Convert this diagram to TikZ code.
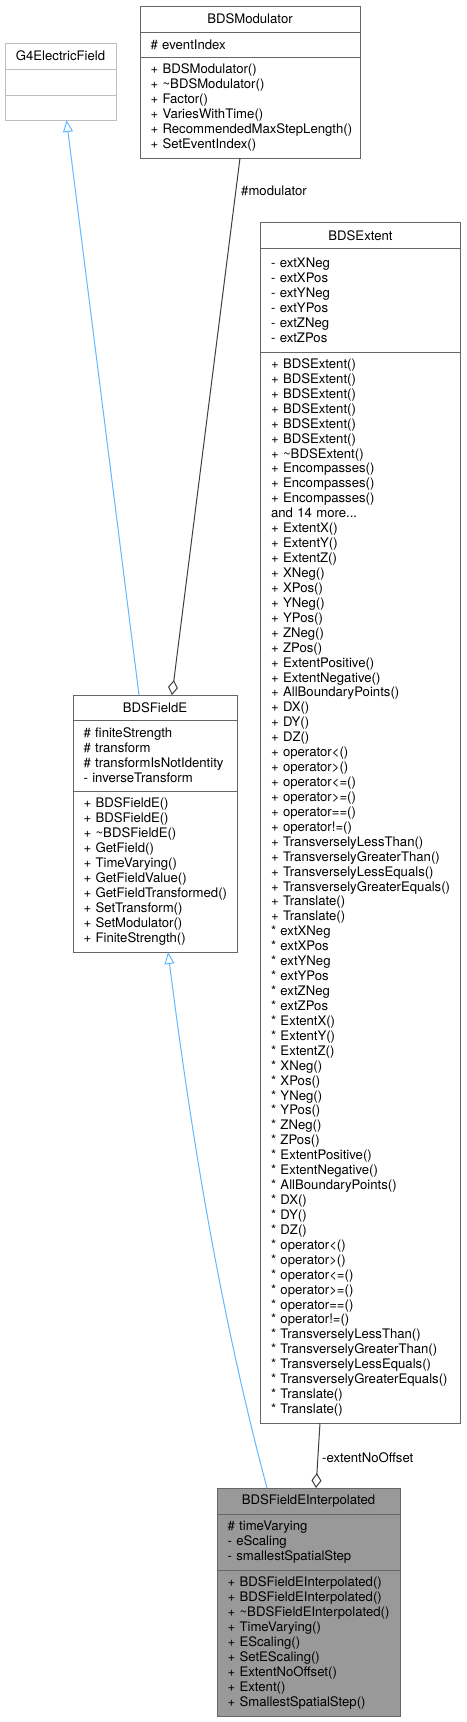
\documentclass[tikz,border=0pt]{standalone}
\usepackage{fontspec}
\setmainfont{TeX Gyre Heros}
\usetikzlibrary{arrows.meta}
\usetikzlibrary{positioning}
\definecolor{inhblue}{HTML}{63B8FF}
\definecolor{aggrey}{HTML}{404040}
\definecolor{boxgrey}{HTML}{666666}
\definecolor{extgrey}{HTML}{BFBFBF}
\definecolor{curfill}{HTML}{999999}
\newcommand{\clsfont}{\fontsize{13.15}{14.93}\selectfont\hyphenpenalty=10000\relax\exhyphenpenalty=10000\relax}
\tikzset{
  cls/.style={draw=boxgrey, line width=1pt, fill=white, outer sep=0pt, inner ysep=0pt, font=\clsfont},
  clstitle/.style={cls, anchor=north, inner xsep=0pt},
  clspart/.style={cls, inner xsep=10.5pt, align=left},
  lbl/.style={anchor=west, inner sep=0pt, font=\clsfont},
  inherit/.style={draw=inhblue, line width=1pt, -{Triangle[open, length=12pt, width=10pt]}},
  aggr/.style={draw=aggrey, line width=1pt, -{Diamond[open, length=15pt, width=10pt]}}
}
\begin{document}
\begin{tikzpicture}[x=1pt, y=-1pt]
\path[use as bounding box, fill=white] (0,0) rectangle (466,1722);

\node[clstitle, draw=extgrey, minimum width=111pt, minimum height=26pt] (G) at (60.5,43) {G4ElectricField};
\node[clspart, draw=extgrey, text width=90pt, minimum height=26pt, below=0pt of G] (Ga) {};
\node[clspart, draw=extgrey, text width=90pt, minimum height=25pt, below=0pt of Ga] (Gm) {};

\node[clstitle, minimum width=220pt, minimum height=26pt] (M) at (250,6) {BDSModulator};
\node[clspart, text width=199pt, minimum height=25pt, below=0pt of M] (Ma) {\#~eventIndex};
\node[clspart, text width=199pt, minimum height=101pt, below=0pt of Ma] (Mm) {+~BDSModulator()\\+~\textasciitilde BDSModulator()\\+~Factor()\\+~VariesWithTime()\\+~RecommendedMaxStepLength()\\+~SetEventIndex()};

\node[clstitle, minimum width=200pt, minimum height=26pt] (X) at (360.5,222.5) {BDSExtent};
\node[clspart, text width=179pt, minimum height=103.5pt, below=0pt of X] (Xa) {-~extXNeg\\-~extXPos\\-~extYNeg\\-~extYPos\\-~extZNeg\\-~extZPos};
\node[clspart, text width=179pt, minimum height=1071pt, below=0pt of Xa] (Xm) {+~BDSExtent()\\+~BDSExtent()\\+~BDSExtent()\\+~BDSExtent()\\+~BDSExtent()\\+~BDSExtent()\\+~\textasciitilde BDSExtent()\\+~Encompasses()\\+~Encompasses()\\+~Encompasses()\\and~14~more...\\+~ExtentX()\\+~ExtentY()\\+~ExtentZ()\\+~XNeg()\\+~XPos()\\+~YNeg()\\+~YPos()\\+~ZNeg()\\+~ZPos()\\+~ExtentPositive()\\+~ExtentNegative()\\+~AllBoundaryPoints()\\+~DX()\\+~DY()\\+~DZ()\\+~operator<()\\+~operator>()\\+~operator<=()\\+~operator>=()\\+~operator==()\\+~operator!=()\\+~TransverselyLessThan()\\+~TransverselyGreaterThan()\\+~TransverselyLessEquals()\\+~TransverselyGreaterEquals()\\+~Translate()\\+~Translate()\\{*}~extXNeg\\{*}~extXPos\\{*}~extYNeg\\{*}~extYPos\\{*}~extZNeg\\{*}~extZPos\\{*}~ExtentX()\\{*}~ExtentY()\\{*}~ExtentZ()\\{*}~XNeg()\\{*}~XPos()\\{*}~YNeg()\\{*}~YPos()\\{*}~ZNeg()\\{*}~ZPos()\\{*}~ExtentPositive()\\{*}~ExtentNegative()\\{*}~AllBoundaryPoints()\\{*}~DX()\\{*}~DY()\\{*}~DZ()\\{*}~operator<()\\{*}~operator>()\\{*}~operator<=()\\{*}~operator>=()\\{*}~operator==()\\{*}~operator!=()\\{*}~TransverselyLessThan()\\{*}~TransverselyGreaterThan()\\{*}~TransverselyLessEquals()\\{*}~TransverselyGreaterEquals()\\{*}~Translate()\\{*}~Translate()};

\node[clstitle, minimum width=164pt, minimum height=25pt] (E) at (155,695) {BDSFieldE};
\node[clspart, text width=143pt, minimum height=71pt, below=0pt of E] (Ea) {\#~finiteStrength\\\#~transform\\\#~transformIsNotIdentity\\-~inverseTransform};
\node[clspart, text width=143pt, minimum height=161pt, below=0pt of Ea] (Em) {+~BDSFieldE()\\+~BDSFieldE()\\+~\textasciitilde BDSFieldE()\\+~GetField()\\+~TimeVarying()\\+~GetFieldValue()\\+~GetFieldTransformed()\\+~SetTransform()\\+~SetModulator()\\+~FiniteStrength()};

\node[clstitle, fill=curfill, minimum width=183pt, minimum height=26pt] (I) at (308.5,1488) {BDSFieldEInterpolated};
\node[clspart, fill=curfill, text width=162pt, minimum height=56pt, below=0pt of I] (Ia) {\#~timeVarying\\-~eScaling\\-~smallestSpatialStep};
\node[clspart, fill=curfill, text width=162pt, minimum height=146pt, below=0pt of Ia] (Im) {+~BDSFieldEInterpolated()\\+~BDSFieldEInterpolated()\\+~\textasciitilde BDSFieldEInterpolated()\\+~TimeVarying()\\+~EScaling()\\+~SetEScaling()\\+~ExtentNoOffset()\\+~Extent()\\+~SmallestSpatialStep()};

\node[lbl] (modlbl) at (241,191) {\#modulator};
\node[lbl] (extlbl) at (322,1458) {-extentNoOffset};

\draw [inherit] ([xshift=-16pt]E.north) -- ([xshift=6pt]Gm.south);
\draw [aggr] ([xshift=-10pt]Mm.south) -- ([xshift=17pt]E.north);
\draw [inherit] ([xshift=-41.5pt]I.north) .. controls +(-48,-180) and +(23,180) .. ([xshift=13pt]Em.south);
\draw [aggr] ([xshift=-40.5pt]Xm.south) -- ([xshift=7.5pt]I.north);
\end{tikzpicture}
\end{document}
